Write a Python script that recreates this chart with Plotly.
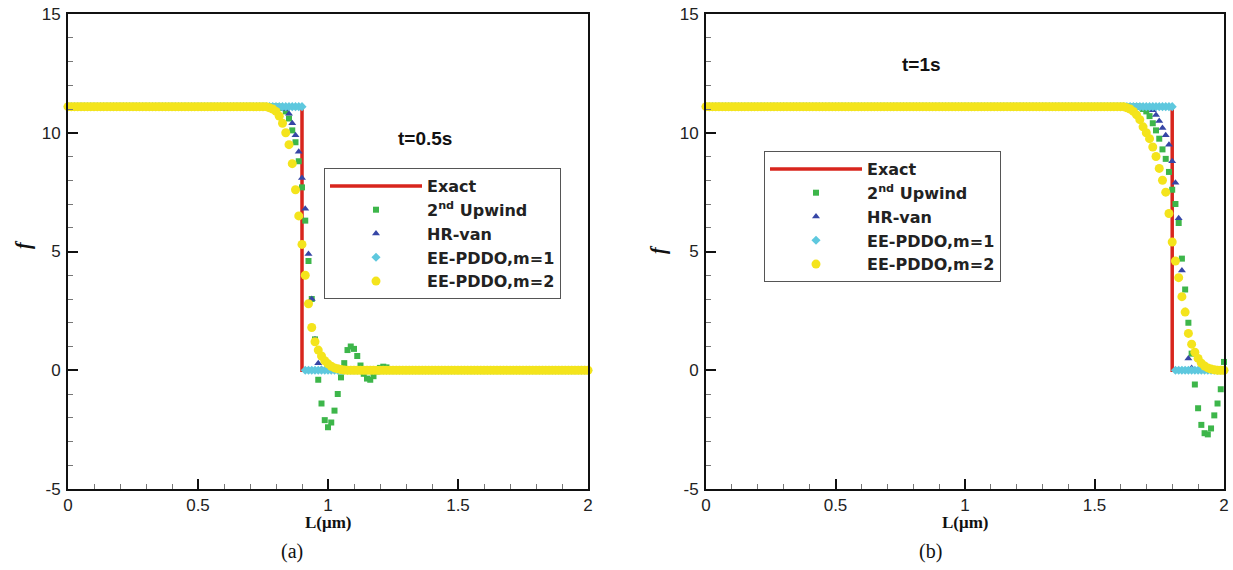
import plotly.graph_objects as go

W, H = 1233, 570
DX = 0.0125
x = [round(i * DX, 4) for i in range(161)]
LEVEL = 11.1

# ---------------- (a) t = 0.5 s ----------------
exact_a_x = [0.0, 0.9, 0.9, 2.0]
exact_a_y = [11.1, 11.1, 0.0, 0.0]

upwind_a_start = 0.825
upwind_a_vals = [11.05, 10.9, 10.6, 10.1, 9.6, 8.8, 7.7, 6.3, 4.6, 3.0, 1.3, -0.4,
                 -1.4, -2.1, -2.4, -2.2, -1.7, -1.0, -0.3, 0.3, 0.85, 1.0, 0.9, 0.6,
                 0.2, -0.15, -0.35, -0.4, -0.25, -0.05, 0.1, 0.15, 0.12, 0.05]

hr_a_start = 0.8375
hr_a_vals = [11.0, 10.8, 10.4, 9.9, 9.2, 8.1, 6.8, 4.9, 3.0, 1.3, 0.3, 0.05]

ee1_a_start = 0.9125
ee1_a_vals = []

ee2_a_start = 0.775
ee2_a_vals = [11.05, 11.0, 10.9, 10.7, 10.4, 10.0, 9.5, 8.7, 7.6, 6.5, 5.3, 4.0, 2.8,
              1.8, 1.2, 0.85, 0.6, 0.4, 0.27, 0.17, 0.1, 0.06, 0.03, 0.01]

# ---------------- (b) t = 1 s ----------------
exact_b_x = [0.0, 1.8, 1.8, 2.0]
exact_b_y = [11.1, 11.1, 0.0, 0.0]

upwind_b_start = 1.6875
upwind_b_vals = [11.0, 10.9, 10.7, 10.4, 10.1, 9.75, 9.3, 8.9, 8.35, 7.6, 7.0, 6.2,
                 4.7, 3.4, 2.0, 0.7, -0.6, -1.6, -2.3, -2.65, -2.7, -2.45, -1.9,
                 -1.4, -0.8, 0.35]

hr_b_start = 1.7125
hr_b_vals = [11.05, 10.95, 10.75, 10.5, 10.2, 9.9, 9.5, 8.8, 7.9, 6.4, 4.2, 2.5, 0.5, 0.1]

ee1_b_start = 1.8125
ee1_b_vals = []

ee2_b_start = 1.625
ee2_b_vals = [11.05, 11.0, 10.9, 10.75, 10.55, 10.25, 10.0, 9.75, 9.4, 9.0, 8.5, 8.0,
              7.5, 6.6, 5.4, 4.6, 3.9, 3.1, 2.45, 1.55, 1.1, 0.76, 0.5, 0.3, 0.18,
              0.1, 0.05, 0.02]

names = ["<b>Exact</b>", "<b>2<sup>nd</sup> Upwind</b>", "<b>HR-van</b>",
         "<b>EE-PDDO,m=1</b>", "<b>EE-PDDO,m=2</b>"]


def full(start, vals, head=LEVEL, tail=0.0):
    i0 = int(round(start / DX))
    out = [head] * i0 + list(vals)
    out += [tail] * (len(x) - len(out))
    return out[:len(x)]


RED = "#d8251d"
GREEN = "#3db64a"
BLUE = "#3646a6"
CYAN = "#5ec8de"
YELLOW = "#f4e41c"

fig = go.Figure()


def add_panel(xa, ya, leg, ex_x, ex_y, series):
    fig.add_trace(go.Scatter(x=ex_x, y=ex_y, mode="lines", name=names[0],
                             line=dict(color=RED, width=3.5), xaxis=xa, yaxis=ya,
                             legend=leg, cliponaxis=False))
    styles = [("square", 6, GREEN), ("triangle-up", 7, BLUE),
              ("diamond", 7, CYAN), ("circle", 9, YELLOW)]
    for (sym, size, col), nm, ys in zip(styles, names[1:], series):
        fig.add_trace(go.Scatter(x=x, y=ys, mode="markers", name=nm,
                                 marker=dict(symbol=sym, size=size, color=col,
                                             line=dict(width=0)),
                                 xaxis=xa, yaxis=ya, legend=leg, cliponaxis=False))


add_panel("x", "y", "legend", exact_a_x, exact_a_y,
          [full(upwind_a_start, upwind_a_vals), full(hr_a_start, hr_a_vals),
           full(ee1_a_start, ee1_a_vals), full(ee2_a_start, ee2_a_vals)])
add_panel("x2", "y2", "legend2", exact_b_x, exact_b_y,
          [full(upwind_b_start, upwind_b_vals), full(hr_b_start, hr_b_vals),
           full(ee1_b_start, ee1_b_vals), full(ee2_b_start, ee2_b_vals)])

tickfont = dict(family="Liberation Sans, Arial, sans-serif", size=17, color="#222")
common = dict(showline=True, linecolor="#111", linewidth=2, mirror=True,
              ticks="inside", ticklen=10, tickwidth=2, tickcolor="#111",
              showgrid=False, zeroline=False, tickfont=tickfont, automargin=False)
xcommon = dict(common, range=[0, 2], tickmode="array",
               tickvals=[0, 0.5, 1, 1.5, 2], ticktext=["0", "0.5", "1", "1.5", "2"],
               ticklabelstandoff=0,
               minor=dict(tickmode="linear", tick0=0, dtick=0.1, ticks="inside",
                          ticklen=5, tickwidth=1, tickcolor="#777"))
ycommon = dict(common, range=[-5, 15], tickmode="array",
               tickvals=[-5, 0, 5, 10, 15], ticktext=["-5", "0", "5", "10", "15"],
               ticklabelstandoff=2,
               minor=dict(tickmode="linear", tick0=0, dtick=1, ticks="inside",
                          ticklen=5, tickwidth=1, tickcolor="#777"))

ydom = [1 - 489 / H, 1 - 14 / H]
legfont = dict(family="DejaVu Sans, Verdana, sans-serif", size=16, color="#222")
legcommon = dict(xanchor="left", yanchor="top", bgcolor="white", bordercolor="#555",
                 borderwidth=1, font=legfont, itemwidth=92, tracegroupgap=0)

fig.update_layout(
    width=W, height=H, margin=dict(l=0, r=0, t=0, b=0, pad=0, autoexpand=False),
    paper_bgcolor="white", plot_bgcolor="white",
    xaxis=dict(xcommon, domain=[68 / W, 588 / W], anchor="y"),
    yaxis=dict(ycommon, domain=ydom, anchor="x"),
    xaxis2=dict(xcommon, domain=[706 / W, 1224 / W], anchor="y2"),
    yaxis2=dict(ycommon, domain=ydom, anchor="x2"),
    legend=dict(legcommon, x=324 / W, y=1 - 168 / H),
    legend2=dict(legcommon, x=764 / W, y=1 - 151 / H),
    showlegend=True,
)

serif = "Liberation Serif, Times New Roman, serif"
ann = [
    dict(text="<b>t=0.5s</b>", x=425 / W, y=1 - 138 / H,
         font=dict(family="Liberation Sans, Arial", size=19, color="#111")),
    dict(text="<b>t=1s</b>", x=921 / W, y=1 - 64 / H,
         font=dict(family="Liberation Sans, Arial", size=19, color="#111")),
    dict(text="<b>L(μm)</b>", x=328 / W, y=1 - 522 / H,
         font=dict(family=serif, size=17, color="#111")),
    dict(text="<b>L(μm)</b>", x=965 / W, y=1 - 522 / H,
         font=dict(family=serif, size=17, color="#111")),
    dict(text="(a)", x=292 / W, y=1 - 551 / H,
         font=dict(family=serif, size=20, color="#111")),
    dict(text="(b)", x=930 / W, y=1 - 551 / H,
         font=dict(family=serif, size=20, color="#111")),
    dict(text="<i><b>f</b></i>", x=23 / W, y=1 - 245 / H, textangle=-90,
         font=dict(family=serif, size=20, color="#111")),
    dict(text="<i><b>f</b></i>", x=658 / W, y=1 - 250 / H, textangle=-90,
         font=dict(family=serif, size=20, color="#111")),
]
for a in ann:
    fig.add_annotation(xref="paper", yref="paper", showarrow=False,
                       xanchor="center", yanchor="middle", **a)

fig.write_html("out.html")
